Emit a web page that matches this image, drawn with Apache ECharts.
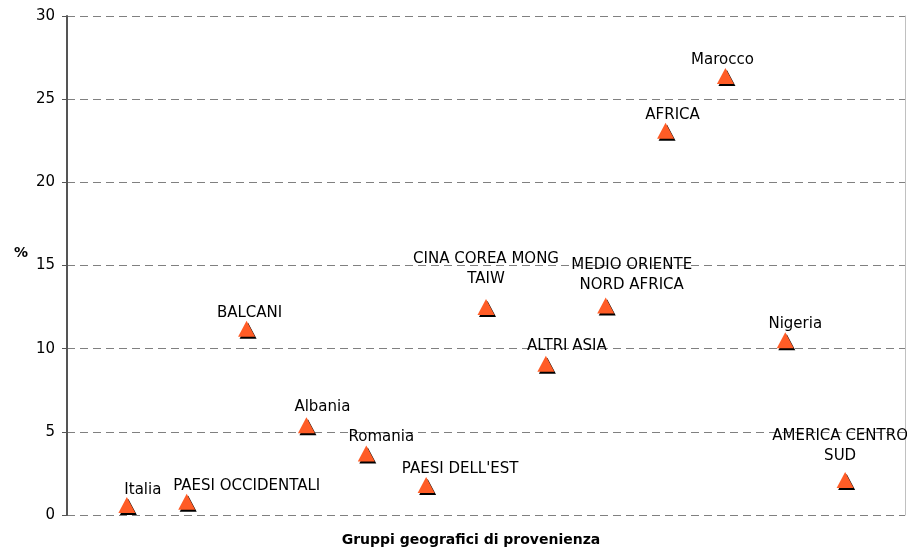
<!DOCTYPE html>
<html>
<head>
<meta charset="utf-8">
<script src="https://cdn.jsdelivr.net/npm/echarts@6/dist/echarts.min.js"></script>
<style>
  html, body { margin: 0; padding: 0; background: #fff; }
  #chart { width: 907px; height: 550px; }
</style>
</head>
<body>
<div id="chart"></div>
<script>
// Groups of origin, in plotting order along the horizontal axis
const categories = [
  'Italia', 'PAESI OCCIDENTALI', 'BALCANI', 'Albania', 'Romania',
  "PAESI DELL'EST", 'CINA COREA MONG\nTAIW', 'ALTRI ASIA',
  'MEDIO ORIENTE\nNORD AFRICA', 'AFRICA', 'Marocco', 'Nigeria',
  'AMERICA CENTRO\nSUD'
];
// Percentage for each group
const shares = [0.6, 0.8, 11.2, 5.4, 3.7, 1.8, 12.5, 9.1, 12.6, 23.1, 26.4, 10.5, 2.1];
// Y axis ticks
const yTicks = [0, 5, 10, 15, 20, 25, 30];

// Label placement relative to each marker (layout only)
const labelShift = [
  [16, -15], [60, -16], [3, -16], [16, -18], [15, -16], [34, -16],
  [0, -38], [21, -18], [26, -30], [7, -16], [-3, -16], [10, -16], [-5, -34]
];

const FONT = 'DejaVu Sans, Verdana, sans-serif';

const points = categories.map((name, i) => ({
  value: [i + 1, shares[i]],
  name: name,
  label: { offset: labelShift[i] }
}));

const chart = echarts.init(document.getElementById('chart'), null, { renderer: 'canvas' });
chart.setOption({
  animation: false,
  backgroundColor: '#ffffff',
  grid: { left: 67, right: 2, top: 16, bottom: 35, containLabel: false },
  xAxis: {
    type: 'value',
    min: 0,
    max: categories.length + 1,
    axisLine: { show: false },
    axisTick: { show: false },
    axisLabel: { show: false },
    splitLine: { show: false }
  },
  yAxis: [{
    type: 'value',
    min: yTicks[0],
    max: yTicks[yTicks.length - 1],
    interval: 5,
    axisLine: { show: true, lineStyle: { color: '#555', width: 2 } },
    axisTick: { show: true, length: 5, lineStyle: { color: '#555' } },
    axisLabel: { margin: 12, fontFamily: FONT, fontSize: 15, color: '#000' },
    splitLine: { show: true, lineStyle: { color: '#808080', type: [8, 5], width: 1 } }
  }, {
    type: 'value',
    position: 'right',
    min: 0,
    max: 30,
    interval: 5,
    axisLine: { show: true, lineStyle: { color: '#c0c0c0', width: 1 } },
    axisTick: { show: false },
    axisLabel: { show: false },
    splitLine: { show: false }
  }],
  graphic: [{
    type: 'text',
    x: 471,
    y: 540,
    style: {
      text: 'Gruppi geografici di provenienza',
      font: 'bold 14px ' + FONT,
      fill: '#000',
      align: 'center',
      verticalAlign: 'middle'
    }
  }, {
    type: 'text',
    x: 21,
    y: 253,
    style: {
      text: '%',
      font: 'bold 14px ' + FONT,
      fill: '#000',
      align: 'center',
      verticalAlign: 'middle'
    }
  }],
  series: [{
    type: 'scatter',
    data: points,
    symbol: 'triangle',
    symbolSize: [17, 16],
    itemStyle: {
      color: '#ff5c26',
      borderWidth: 0,
      shadowColor: '#000',
      shadowOffsetX: 1.5,
      shadowOffsetY: 2,
      shadowBlur: 0,
      opacity: 1
    },
    label: {
      show: true,
      position: 'inside',
      align: 'center',
      verticalAlign: 'middle',
      formatter: p => p.name,
      fontFamily: FONT,
      fontSize: 15,
      lineHeight: 20,
      color: '#000'
    },
    emphasis: { disabled: true }
  }]
});
</script>
</body>
</html>
